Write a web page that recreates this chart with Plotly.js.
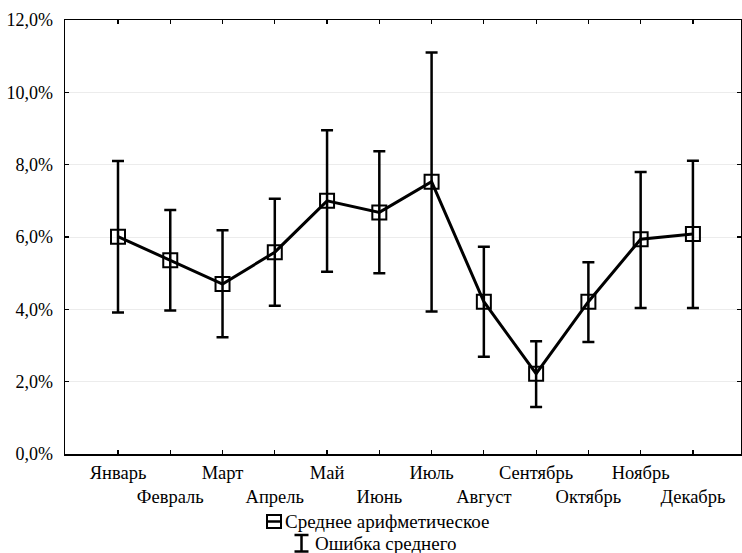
<!DOCTYPE html>
<html>
<head>
<meta charset="utf-8">
<script src="https://cdn.plot.ly/plotly-3.0.1.min.js"></script>
<style>html,body{margin:0;padding:0;background:#fff;}#chart{width:742px;height:553px;}</style>
</head>
<body>
<div id="chart"></div>
<script>
const months = ["Январь","Февраль","Март","Апрель","Май","Июнь","Июль","Август","Сентябрь","Октябрь","Ноябрь","Декабрь"];
const means  = [6.01, 5.36, 4.70, 5.58, 7.00, 6.68, 7.53, 4.21, 2.22, 4.21, 5.94, 6.08];
const upper  = [8.10, 6.75, 6.19, 7.06, 8.95, 8.37, 11.10, 5.73, 3.12, 5.30, 7.80, 8.11];
const lower  = [3.91, 3.97, 3.23, 4.10, 5.04, 5.00, 3.94, 2.69, 1.30, 3.10, 4.04, 4.04];
const yTickVals = [0, 2, 4, 6, 8, 10, 12];
const yTickText = ["0,0%", "2,0%", "4,0%", "6,0%", "8,0%", "10,0%", "12,0%"];
const legendMean = "Среднее арифметическое";
const legendErr = "Ошибка среднего";

const xIdx = months.map((m, i) => i);
const xTickText = months.map((m, i) => i % 2 === 0 ? m : "<br>" + m);
const errPlus = upper.map((u, i) => +(u - means[i]).toFixed(3));
const errMinus = lower.map((l, i) => +(means[i] - l).toFixed(3));

const FONT = "'Liberation Serif', 'Times New Roman', serif";

const trace = {
  x: xIdx, y: means, type: "scatter", mode: "lines+markers",
  name: legendMean, showlegend: false,
  line: {color: "#000", width: 3},
  marker: {symbol: "square-open", size: 14, color: "#000", line: {width: 2, color: "#000"}},
  error_y: {type: "data", symmetric: false, array: errPlus, arrayminus: errMinus,
            color: "#000", thickness: 2.5, width: 6}
};

const px = v => (v - 65) / 676;
const py = v => (454 - v) / 434;

const layout = {
  width: 742, height: 553,
  margin: {l: 65, r: 1, t: 20, b: 99},
  paper_bgcolor: "#fff", plot_bgcolor: "#fff",
  font: {family: FONT, size: 18.5, color: "#000"},
  showlegend: false,
  xaxis: {
    range: [-1.014, 11.92], tickmode: "array", tickvals: xIdx, ticktext: xTickText,
    tickangle: 0, automargin: false,
    showline: true, linecolor: "#000", linewidth: 1.5, mirror: "ticks",
    ticks: "inside", ticklen: 4, tickcolor: "#000", tickwidth: 1.2,
    showgrid: false, zeroline: false, ticklabelstandoff: 1,
    tickfont: {family: FONT, size: 18.5, color: "#000"}
  },
  yaxis: {
    range: [0, 12], tickmode: "array", tickvals: yTickVals, ticktext: yTickText,
    automargin: false,
    showline: true, linecolor: "#000", linewidth: 1.5, mirror: "ticks",
    ticks: "inside", ticklen: 4, tickcolor: "#000", tickwidth: 1.2,
    showgrid: true, gridcolor: "#ececec", gridwidth: 1, zeroline: false,
    ticklabelstandoff: 7,
    tickfont: {family: FONT, size: 18, color: "#000"}
  },
  shapes: [
    {type: "rect", xref: "paper", yref: "paper",
     x0: px(267), x1: px(281), y0: py(528), y1: py(515),
     line: {color: "#000", width: 2}, fillcolor: "rgba(0,0,0,0)"},
    {type: "line", xref: "paper", yref: "paper",
     x0: px(266), x1: px(282), y0: py(521.5), y1: py(521.5),
     line: {color: "#000", width: 2.5}},
    {type: "line", xref: "paper", yref: "paper",
     x0: px(301.5), x1: px(301.5), y0: py(535), y1: py(551.5),
     line: {color: "#000", width: 2.5}},
    {type: "line", xref: "paper", yref: "paper",
     x0: px(294.5), x1: px(308.5), y0: py(535), y1: py(535),
     line: {color: "#000", width: 2.5}},
    {type: "line", xref: "paper", yref: "paper",
     x0: px(294.5), x1: px(308.5), y0: py(551.5), y1: py(551.5),
     line: {color: "#000", width: 2.5}}
  ],
  annotations: [
    {xref: "paper", yref: "paper", x: px(283), y: py(521),
     xanchor: "left", yanchor: "middle", showarrow: false, text: legendMean,
     font: {family: FONT, size: 19, color: "#000"}},
    {xref: "paper", yref: "paper", x: px(313), y: py(543),
     xanchor: "left", yanchor: "middle", showarrow: false, text: legendErr,
     font: {family: FONT, size: 19, color: "#000"}}
  ]
};

Plotly.newPlot("chart", [trace], layout, {displayModeBar: false, staticPlot: true});
</script>
</body>
</html>
